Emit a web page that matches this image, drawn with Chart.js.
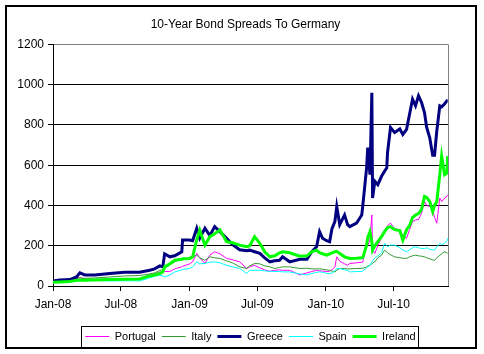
<!DOCTYPE html>
<html>
<head>
<meta charset="utf-8">
<script src="https://cdn.jsdelivr.net/npm/chart.js@4/dist/chart.umd.min.js"></script>
<style>
body{margin:0;background:#fff;}
</style>
</head>
<body>
<canvas id="chart" width="484" height="354"></canvas>
<script>

/* DATA (x = days since 1 Jan 2008) */

const days = [0,18,45,63,72,85,112,152,192,232,
259,272,286,294,299,313,326,345,347,366,
374,385,393,407,420,433,447,465,481,500,
519,527,540,554,567,581,594,607,615,634,
661,680,693,706,714,722,733,741,747,755,
760,768,781,789,795,813,827,830,840,843,
849,854,856,862,870,880,888,894,896,904,
915,929,937,947,955,963,971,979,987,995,
1001,1009,1017,1022,1028,1036,1041,1049,1055,1057];

const portugal = [25,28,30,38,42,35,33,35,35,35,
55,60,70,70,72,72,85,95,98,110,
120,162,140,112,153,170,160,137,130,120,
87,95,103,90,80,73,78,80,78,78,
55,65,72,78,75,74,72,73,80,95,
145,123,110,103,112,115,118,120,220,200,
230,353,180,162,200,240,278,290,300,312,
285,278,250,237,280,320,328,330,360,420,
400,395,378,340,312,437,420,437,445,453];

const italy = [28,30,32,38,40,38,40,45,50,52,
60,65,78,80,87,105,120,137,137,137,
145,153,140,128,145,140,137,125,115,95,
87,100,112,110,100,95,87,92,95,95,
87,88,85,85,85,83,80,78,75,70,
78,87,87,85,85,87,88,88,95,100,
103,110,115,120,140,153,178,170,165,155,
145,140,138,137,145,150,153,150,148,145,
140,135,130,128,140,153,160,170,165,162];

const greece = [25,30,32,45,65,55,55,62,68,68,
78,85,100,95,160,145,150,170,228,228,
225,287,237,287,250,295,270,237,205,180,
175,178,170,162,140,120,125,128,145,120,
133,133,170,195,270,237,225,220,283,320,
395,305,353,305,295,312,353,403,587,687,
553,960,437,520,503,545,570,587,662,787,
762,780,753,778,853,928,895,945,912,862,
787,737,650,650,770,895,890,905,920,920];

const spain = [20,22,24,28,30,28,28,25,26,25,
40,48,53,50,45,55,70,80,82,87,
95,120,110,112,118,120,115,103,95,87,
62,78,78,78,75,73,72,72,70,70,
60,55,62,68,70,68,63,61,65,75,
87,87,80,78,70,72,72,75,90,95,
103,120,125,140,150,165,212,200,195,203,
203,190,180,170,180,190,195,190,186,186,
190,182,180,178,195,212,205,212,225,237];

const ireland = [18,20,22,28,30,28,30,32,33,35,
50,55,62,70,95,110,128,133,135,137,
145,230,278,203,245,260,278,220,215,203,
195,200,245,212,170,145,150,165,170,165,
148,150,170,178,165,160,153,160,165,170,
172,162,145,140,137,138,140,142,203,240,
270,220,178,200,220,245,270,285,290,295,
280,275,228,280,300,340,353,360,380,445,
440,420,370,400,420,553,645,553,560,645];

const tickDays = [0,182,366,547,731,912];
const tickLabels = ["Jan-08","Jul-08","Jan-09","Jul-09","Jan-10","Jul-10"];

const FONT = "'Liberation Sans', Arial, sans-serif";

function pts(arr){
    return arr.map((v,i)=>({x:days[i],y:v}));
}

function series(label,arr,color,width,order){
    return {
        label:label,
        data:pts(arr),
        borderColor:color,
        backgroundColor:color,
        borderWidth:width,
        pointRadius:0,
        tension:0,
        order:order
    };
}

/* frame, gray plot border, legend box */

const frame = {
    id:"frame",
    beforeDraw(c){
        const ctx = c.ctx;
        ctx.save();
        ctx.fillStyle = "#fff";
        ctx.fillRect(0,0,c.width,c.height);
        ctx.restore();
    },
    beforeDatasetsDraw(c){
        const ctx = c.ctx, a = c.chartArea;
        ctx.save();
        ctx.strokeStyle = "#808080";
        ctx.lineWidth = 1;
        ctx.beginPath();
        ctx.moveTo(Math.round(a.right)+0.5,a.top);
        ctx.lineTo(Math.round(a.right)+0.5,a.bottom);
        ctx.stroke();
        ctx.restore();
    },
    afterDraw(c){
        const ctx = c.ctx;
        ctx.save();
        ctx.strokeStyle = "#000";
        ctx.lineWidth = 2;
        ctx.strokeRect(6,6,470,342);
        const hb = c.legend.legendHitBoxes;
        if(hb && hb.length){
            const l = Math.min(...hb.map(h=>h.left)) - 4;
            const r = Math.max(...hb.map(h=>h.left+h.width)) + 3;
            const t = Math.min(...hb.map(h=>h.top)) - 5;
            const b = Math.max(...hb.map(h=>h.top+h.height)) + 5;
            ctx.lineWidth = 1;
            ctx.strokeRect(Math.round(l)+0.5,Math.round(t)+0.5,Math.round(r-l),Math.round(b-t));
        }
        ctx.restore();
    }
};

new Chart(document.getElementById("chart"),{

    type:"line",

    data:{
        datasets:[
            series("Portugal",portugal,"#ff00ff",1,4),
            series("Italy",italy,"#339933",1,3),
            series("Greece",greece,"#000080",3,2),
            series("Spain",spain,"#00ffff",1,1),
            series("Ireland",ireland,"#00ff00",3,0)
        ]
    },

    options:{
        responsive:false,
        animation:false,
        layout:{padding:{left:8,right:36,top:0,bottom:2}},
        scales:{
            x:{
                type:"linear",
                min:0,
                max:1058,
                afterBuildTicks:(axis)=>{ axis.ticks = tickDays.map(v=>({value:v})); },
                afterFit:(s)=>{ s.height = 39; },
                ticks:{
                    autoSkip:false,
                    maxRotation:0,
                    padding:6,
                    color:"#000",
                    font:{family:FONT,size:12},
                    callback:(v)=>tickLabels[tickDays.indexOf(v)]
                },
                grid:{drawOnChartArea:false,drawTicks:true,tickLength:5,color:"#000"},
                border:{color:"#000"}
            },
            y:{
                min:0,
                max:1200,
                afterFit:(s)=>{ s.width = 45; },
                ticks:{
                    stepSize:200,
                    padding:4,
                    color:"#000",
                    font:{family:FONT,size:12},
                    callback:(v)=>String(v)
                },
                grid:{
                    color:(ctx)=>ctx.tick && ctx.tick.value === 1200 ? "#808080" : "#000",
                    tickColor:"#000",
                    tickLength:5
                },
                border:{color:"#000"}
            }
        },
        plugins:{
            title:{
                display:true,
                fullSize:false,
                text:"10-Year Bond Spreads To Germany   ",
                color:"#000",
                font:{family:FONT,size:12,weight:"normal"},
                padding:{top:17,bottom:13}
            },
            legend:{
                position:"bottom",
                fullSize:false,
                labels:{
                    usePointStyle:true,
                    pointStyle:"line",
                    pointStyleWidth:24,
                    boxWidth:24,
                    padding:6,
                    color:"#000",
                    font:{family:FONT,size:11},
                    sort:(a,b)=>a.datasetIndex-b.datasetIndex
                }
            },
            tooltip:{enabled:false}
        }
    },

    plugins:[frame]

});

</script>
</body>
</html>
